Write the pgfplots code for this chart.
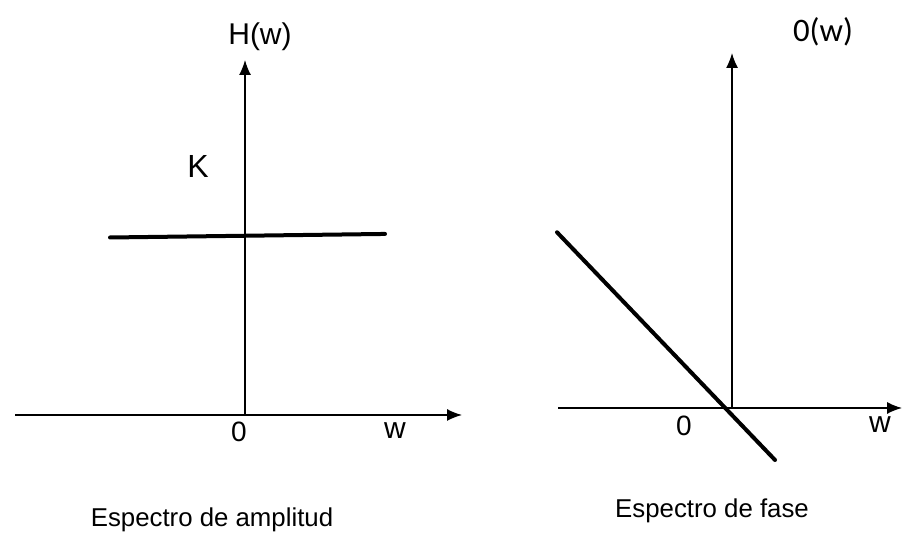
\documentclass[border=0pt]{standalone}
\usepackage{fontspec}
\setmainfont{Liberation Sans}
\newfontfamily\carlito{Carlito}
\usepackage{pgfplots}
\pgfplotsset{compat=1.18}
\usetikzlibrary{arrows.meta}
\begin{document}
\begin{tikzpicture}
\path[use as bounding box] (0,0) rectangle (451.5pt,266.5pt);
\pgfplotsset{
  myaxes/.style={
    axis lines=middle, xtick=\empty, ytick=\empty, clip=false,
    x axis line style={line width=0.7pt,-{Latex[length=7.5pt,width=6pt]}},
    y axis line style={line width=0.7pt,-{Latex[length=7.5pt,width=6pt]}},
  }
}
% Amplitude spectrum
\begin{axis}[at={(7.5pt,59pt)}, anchor=south west, scale only axis,
  width=223.5pt, height=177.5pt,
  xmin=-2.3, xmax=2.17, ymin=0, ymax=2, myaxes]
\addplot[black, line width=2pt, line cap=round] coordinates {(-1.35,1.0) (1.40,1.02)};
\end{axis}
% Phase spectrum
\begin{axis}[at={(279pt,62.5pt)}, anchor=south west, scale only axis,
  width=172pt, height=177.5pt,
  xmin=-1.74, xmax=1.70, ymin=0, ymax=2, myaxes]
\addplot[black, line width=2pt, line cap=round] coordinates {(-1.75,0.99) (0.43,-0.293)};
\end{axis}
% labels
\node[anchor=base, font=\fontsize{15}{18}\selectfont] at (130pt,244pt) {H(w)};
\node[anchor=base, font=\fontsize{16}{19}\selectfont] at (99pt,177.5pt) {K};
\node[anchor=base, font=\fontsize{14}{16}\selectfont] at (119.5pt,45.5pt) {0};
\node[anchor=base, font=\fontsize{15}{18}\selectfont] at (197.5pt,47pt) {w};
\node[anchor=base, font=\fontsize{12.9}{15}\selectfont] at (106pt,3pt) {Espectro de amplitud};
\node[anchor=base, font=\carlito\fontsize{16.4}{19}\selectfont] at (411.5pt,245.5pt) {0(w)};
\node[anchor=base, font=\fontsize{14}{16}\selectfont] at (342pt,48.5pt) {0};
\node[anchor=base, font=\fontsize{15}{18}\selectfont] at (440pt,50pt) {w};
\node[anchor=base, font=\fontsize{12.9}{15}\selectfont] at (356pt,7.5pt) {Espectro de fase};
\end{tikzpicture}
\end{document}
